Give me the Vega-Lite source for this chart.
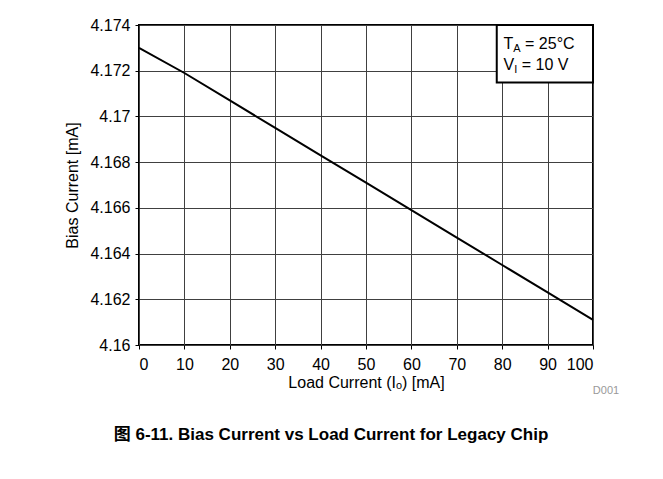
{
  "$schema": "https://vega.github.io/schema/vega-lite/v6.json",
  "width": 454,
  "height": 320,
  "autosize": {"type": "none"},
  "padding": {"left": 139, "top": 25, "right": 70, "bottom": 134},
  "background": "white",
  "config": {
    "font": "Liberation Sans",
    "view": {"stroke": "black", "strokeWidth": 2},
    "axis": {
      "labelFont": "Liberation Sans",
      "labelFontSize": 16,
      "labelColor": "black",
      "titleFont": "Liberation Sans",
      "titleFontSize": 16,
      "titleFontWeight": "normal",
      "titleColor": "black",
      "gridColor": "#404040",
      "gridWidth": 1,
      "gridOpacity": 1,
      "domain": false,
      "tickColor": "black",
      "tickSize": 4
    }
  },
  "title": {
    "text": "图 6-11. Bias Current vs Load Current for Legacy Chip",
    "orient": "bottom",
    "anchor": "middle",
    "frame": "group",
    "dx": -35,
    "offset": 31,
    "font": "Liberation Sans, Noto Sans CJK SC",
    "fontSize": 17,
    "fontWeight": "bold",
    "color": "black"
  },
  "layer": [
    {
      "data": {
        "values": [
          {"load": 0, "bias": 4.1730},
          {"load": 10, "bias": 4.1719},
          {"load": 20, "bias": 4.1707},
          {"load": 30, "bias": 4.1695},
          {"load": 40, "bias": 4.1683},
          {"load": 50, "bias": 4.1671},
          {"load": 60, "bias": 4.1659},
          {"load": 70, "bias": 4.1647},
          {"load": 80, "bias": 4.1635},
          {"load": 90, "bias": 4.1623},
          {"load": 100, "bias": 4.1611}
        ]
      },
      "mark": {"type": "line", "color": "black", "strokeWidth": 2},
      "encoding": {
        "x": {
          "field": "load",
          "type": "quantitative",
          "scale": {"domain": [0, 100], "nice": false, "zero": false},
          "axis": {
            "values": [0, 10, 20, 30, 40, 50, 60, 70, 80, 90, 100],
            "title": "Load Current (Iₒ) [mA]",
            "grid": true,
            "labelPadding": 7,
            "titlePadding": 2
          }
        },
        "y": {
          "field": "bias",
          "type": "quantitative",
          "scale": {"domain": [4.16, 4.174], "nice": false, "zero": false},
          "axis": {
            "values": [4.16, 4.162, 4.164, 4.166, 4.168, 4.17, 4.172, 4.174],
            "format": ".4~f",
            "title": "Bias Current [mA]",
            "grid": true,
            "labelPadding": 5,
            "titlePadding": 9
          }
        }
      }
    },
    {
      "data": {"values": [{"load": 78.8, "load2": 100, "bias": 4.17148, "bias2": 4.174}]},
      "mark": {"type": "rect", "fill": "white", "stroke": "black", "strokeWidth": 2},
      "encoding": {
        "x": {"field": "load", "type": "quantitative"},
        "x2": {"field": "load2"},
        "y": {"field": "bias", "type": "quantitative"},
        "y2": {"field": "bias2"}
      }
    },
    {
      "data": {"values": [{"load": 80.3, "bias": 4.17318, "main": "T", "sub": "A", "rest": "= 25°C"}]},
      "layer": [
        {
          "mark": {"type": "text", "align": "left", "baseline": "middle", "fontSize": 16, "color": "black"},
          "encoding": {"text": {"field": "main"}}
        },
        {
          "mark": {"type": "text", "align": "left", "baseline": "middle", "fontSize": 11, "dx": 9.8, "dy": 5, "color": "black"},
          "encoding": {"text": {"field": "sub"}}
        },
        {
          "mark": {"type": "text", "align": "left", "baseline": "middle", "fontSize": 16, "dx": 21.5, "color": "black"},
          "encoding": {"text": {"field": "rest"}}
        }
      ],
      "encoding": {
        "x": {"field": "load", "type": "quantitative"},
        "y": {"field": "bias", "type": "quantitative"}
      }
    },
    {
      "data": {"values": [{"load": 80.3, "bias": 4.17225, "main": "V", "sub": "I", "rest": "= 10 V"}]},
      "layer": [
        {
          "mark": {"type": "text", "align": "left", "baseline": "middle", "fontSize": 16, "color": "black"},
          "encoding": {"text": {"field": "main"}}
        },
        {
          "mark": {"type": "text", "align": "left", "baseline": "middle", "fontSize": 11, "dx": 10.7, "dy": 5, "color": "black"},
          "encoding": {"text": {"field": "sub"}}
        },
        {
          "mark": {"type": "text", "align": "left", "baseline": "middle", "fontSize": 16, "dx": 18.2, "color": "black"},
          "encoding": {"text": {"field": "rest"}}
        }
      ],
      "encoding": {
        "x": {"field": "load", "type": "quantitative"},
        "y": {"field": "bias", "type": "quantitative"}
      }
    },
    {
      "data": {"values": [{"load": 100, "bias": 4.16, "label": "D001"}]},
      "mark": {"type": "text", "align": "center", "baseline": "middle", "fontSize": 11, "dx": 13, "dy": 46, "color": "#999999"},
      "encoding": {
        "x": {"field": "load", "type": "quantitative"},
        "y": {"field": "bias", "type": "quantitative"},
        "text": {"field": "label"}
      }
    }
  ]
}
